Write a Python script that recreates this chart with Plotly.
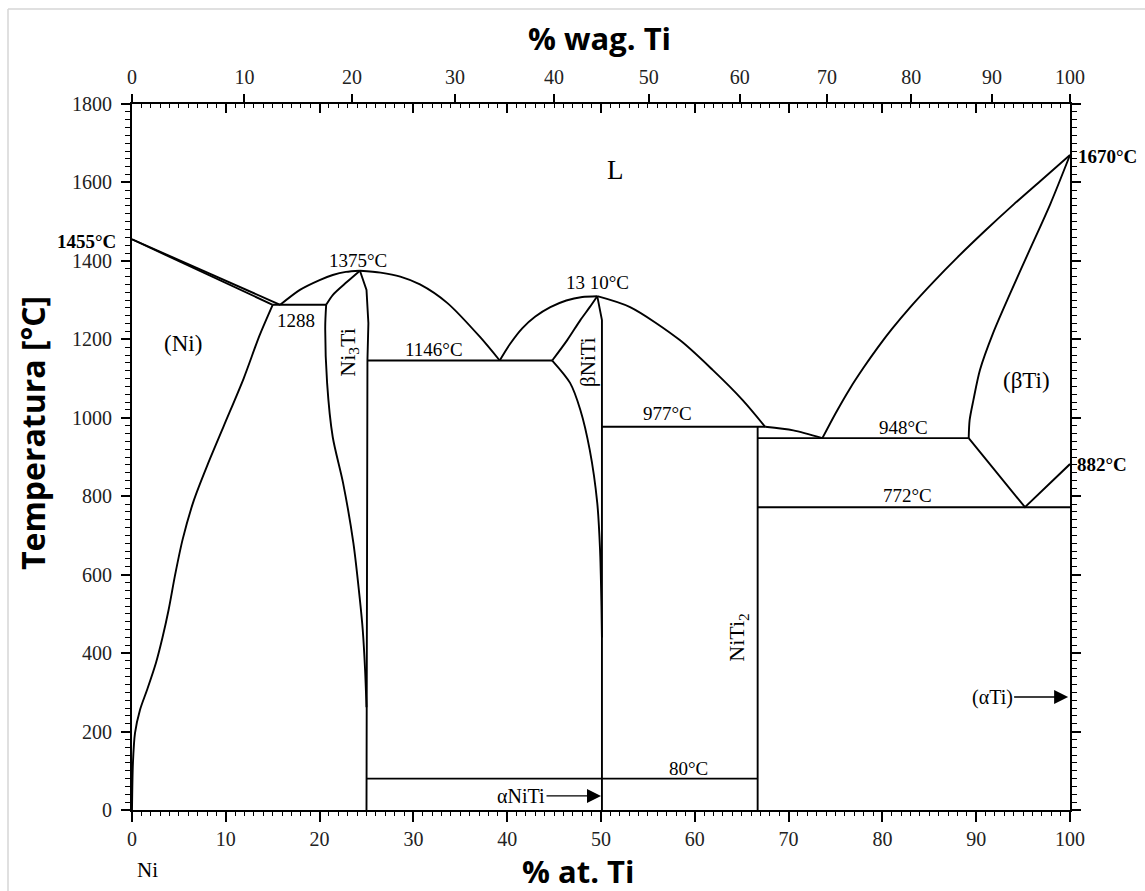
import plotly.graph_objects as go

# ---------------- phase boundaries: x = at.% Ti, T = temperature in °C ----------------
liq_ni_x = [0, 15.8]
liq_ni_T = [1455, 1288]
sol_ni_x = [0, 15.0]
sol_ni_T = [1455, 1288]

solvus_ni_x = [15.0, 13.6, 11.9, 9.8, 8.05, 6.6, 5.4, 4.6, 3.9, 3.25, 2.55, 1.6, 0.85, 0.32, 0.1, 0.0]
solvus_ni_T = [1288, 1210, 1100, 980, 880, 790, 690, 600, 510, 440, 375, 306, 255, 196, 120, 0]

liq_ni3ti_l_x = [15.8, 17.9, 20.0, 21.4, 22.8, 24.3]
liq_ni3ti_l_T = [1288, 1326, 1351, 1364, 1372, 1375]
liq_ni3ti_r_x = [24.3, 26.5, 28.6, 30.7, 33.6, 37.1, 39.2]
liq_ni3ti_r_T = [1375, 1370, 1360, 1340, 1293, 1206, 1146]

ni3ti_lu_x = [20.7, 21.4, 22.9, 24.3]
ni3ti_lu_T = [1288, 1313, 1346, 1375]
ni3ti_ll_x = [20.7, 20.6, 20.8, 21.4, 22.5, 23.6, 24.3, 24.6, 24.85, 25.0]
ni3ti_ll_T = [1288, 1232, 1089, 951, 834, 681, 535, 459, 357, 262]
ni3ti_r_x = [24.3, 25.0, 25.2, 25.1, 25.0]
ni3ti_r_T = [1375, 1326, 1241, 1146, 0]

liq_niti_l_x = [39.2, 40.3, 41.6, 43.0, 44.6, 46.3, 48.0, 49.6]
liq_niti_l_T = [1146, 1188, 1228, 1258, 1282, 1299, 1308, 1310]
liq_niti_r_x = [49.6, 53.1, 58.4, 61.9, 65.1, 67.5]
liq_niti_r_T = [1310, 1282, 1198, 1122, 1045, 977]
liq_niti2_x = [67.5, 70.5, 73.6]
liq_niti2_T = [977, 968, 948]

bniti_u_x = [44.8, 46.4, 47.8, 48.8, 49.6]
bniti_u_T = [1146, 1198, 1249, 1282, 1310]
bniti_l_x = [44.8, 46.7, 47.8, 48.8, 49.6, 49.9, 50.05, 50.1]
bniti_l_T = [1146, 1089, 1020, 918, 783, 663, 520, 440]
niti_r_x = [49.6, 50.1, 50.1]
niti_r_T = [1310, 1249, 0]

niti2_x = [66.7, 66.7]
niti2_T = [977, 0]

liq_ti_x = [73.6, 75.0, 76.5, 78.0, 79.5, 81.0, 83.0, 85.5, 88.0, 91.0, 94.0, 97.0, 100]
liq_ti_T = [948, 1011, 1073, 1128, 1179, 1226, 1283, 1348, 1409, 1478, 1544, 1607, 1670]
sol_ti_x = [100, 97.9, 95.7, 93.6, 91.8, 90.4, 89.7, 89.3, 89.2]
sol_ti_T = [1670, 1545, 1428, 1316, 1216, 1122, 1045, 994, 948]
eutectoid_x = [89.2, 95.2, 100]
eutectoid_T = [948, 772, 882]

# invariant (isothermal) lines: (x_start, x_end, T)
iso_x0 = [15.0, 25.1, 50.1, 66.7, 66.7, 25.0]
iso_x1 = [20.7, 44.8, 67.5, 89.2, 100, 66.7]
iso_T = [1288, 1146, 977, 948, 772, 80]

# axis ticks
at_ticks = list(range(0, 101, 10))
wt_ticks = list(range(0, 101, 10))
temp_ticks = list(range(0, 1801, 200))

M_TI, M_NI = 47.867, 58.693


def wt_to_at(w):
    """Convert wt.% Ti to at.% Ti for the Ni-Ti system."""
    if w <= 0:
        return 0.0
    if w >= 100:
        return 100.0
    nt = w / M_TI
    nn = (100 - w) / M_NI
    return 100 * nt / (nt + nn)


LINE = dict(color="black", width=1.9)
SERIF = "Liberation Serif"
SANS = "Open Sans"

fig = go.Figure()


def curve(xs, ys, smooth=True):
    fig.add_trace(go.Scatter(
        x=xs, y=ys, mode="lines",
        line=dict(LINE, shape="spline" if smooth else "linear", smoothing=0.8),
        showlegend=False, hoverinfo="skip"))


curve(liq_ni_x, liq_ni_T, False)
curve(sol_ni_x, sol_ni_T, False)
curve(solvus_ni_x, solvus_ni_T)
curve(liq_ni3ti_l_x, liq_ni3ti_l_T)
curve(liq_ni3ti_r_x, liq_ni3ti_r_T)
curve(ni3ti_lu_x, ni3ti_lu_T)
curve(ni3ti_ll_x, ni3ti_ll_T)
curve(ni3ti_r_x, ni3ti_r_T, False)
curve(liq_niti_l_x, liq_niti_l_T)
curve(liq_niti_r_x, liq_niti_r_T)
curve(liq_niti2_x, liq_niti2_T)
curve(bniti_u_x, bniti_u_T)
curve(bniti_l_x, bniti_l_T)
curve(niti_r_x, niti_r_T, False)
curve(niti2_x, niti2_T, False)
curve(liq_ti_x, liq_ti_T)
curve(sol_ti_x, sol_ti_T)
curve(eutectoid_x, eutectoid_T, False)
for x0, x1, t in zip(iso_x0, iso_x1, iso_T):
    curve([x0, x1], [t, t], False)

# helper traces so the secondary axes are drawn
fig.add_trace(go.Scatter(x=[0], y=[0], xaxis="x2", yaxis="y", mode="lines",
                         showlegend=False, hoverinfo="skip"))
fig.add_trace(go.Scatter(x=[0], y=[0], xaxis="x3", yaxis="y", mode="lines",
                         showlegend=False, hoverinfo="skip"))
fig.add_trace(go.Scatter(x=[0], y=[0], xaxis="x", yaxis="y2", mode="lines",
                         showlegend=False, hoverinfo="skip"))

tickfont = dict(family=SERIF, size=20, color="#222")
axis_common = dict(showgrid=False, zeroline=False, linecolor="black", linewidth=2,
                   tickcolor="black", tickwidth=1.8)

fig.update_layout(
    width=1145, height=891,
    margin=dict(l=132, r=75, t=104, b=81),
    font=dict(family=SERIF, size=20, color="black"),
    paper_bgcolor="white", plot_bgcolor="white",
    xaxis=dict(axis_common, range=[0, 100], tickvals=at_ticks, ticks="outside",
               ticklen=10, showline=True, tickfont=tickfont,
               minor=dict(dtick=1, ticks="outside", ticklen=4, tickcolor="black", tickwidth=1)),
    xaxis2=dict(axis_common, range=[0, 100], overlaying="x", side="top", anchor="y",
                tickvals=[wt_to_at(w) for w in wt_ticks], ticktext=[str(w) for w in wt_ticks],
                ticks="outside", ticklen=8, showline=True, tickfont=tickfont,
                ticklabelstandoff=2),
    xaxis3=dict(axis_common, range=[0, 100], overlaying="x", side="top", anchor="y",
                tickvals=at_ticks, ticks="inside", ticklen=9, showline=False,
                showticklabels=False,
                minor=dict(dtick=1, ticks="inside", ticklen=4, tickcolor="black", tickwidth=1)),
    yaxis=dict(axis_common, range=[0, 1800], tickvals=temp_ticks, ticks="outside",
               ticklen=9, showline=True, tickfont=tickfont, ticklabelstandoff=5,
               minor=dict(dtick=20, ticks="outside", ticklen=5, tickcolor="black", tickwidth=1)),
    yaxis2=dict(axis_common, range=[0, 1800], overlaying="y", side="right", anchor="x",
                tickvals=temp_ticks, ticks="outside", ticklen=9, showline=True,
                showticklabels=False,
                minor=dict(dtick=20, ticks="outside", ticklen=5, tickcolor="black", tickwidth=1)),
)

annotations = []


def label(text, x, y, size=19, angle=0, bold=False, xanchor="center", xshift=0,
          xref="x", yref="y", font=SERIF):
    annotations.append(dict(
        text=f"<b>{text}</b>" if bold else text, x=x, y=y, xref=xref, yref=yref,
        showarrow=False, textangle=angle, xanchor=xanchor, yanchor="middle",
        xshift=xshift, font=dict(family=font, size=size, color="black")))


# phase fields
label("L", 51.5, 1632, size=27)
label("(Ni)", 5.4, 1190, size=23)
label("(βTi)", 95.4, 1096, size=23)
label("Ni<sub>3</sub>Ti", 23.1, 1165, size=22, angle=-90)
label("βNiTi", 48.6, 1142, size=21, angle=-90)
label("NiTi<sub>2</sub>", 64.6, 439, size=22, angle=-90)

# invariant temperatures
label("1375°C", 24.1, 1400)
label("1288", 17.5, 1249)
label("1146°C", 32.2, 1173)
label("13 10°C", 49.6, 1344)
label("977°C", 57.1, 1012)
label("948°C", 82.3, 974)
label("772°C", 82.7, 803)
label("80°C", 59.3, 107)

# pure-element melting / transformation points
label("1455°C", 0, 1449, size=19, bold=True, xanchor="right", xshift=-14)
label("1670°C", 100, 1667, size=19, bold=True, xanchor="left", xshift=6)
label("882°C", 100, 880, size=19, bold=True, xanchor="left", xshift=5)

# element names under the axis
label("Ni", 1.6, -0.085, size=21, yref="paper")
label("Ti", 101.4, -0.085, size=21, yref="paper")

# axis titles
label("% wag. Ti", 0.498, 1.0935, size=31, bold=True, xref="paper", yref="paper", font=SANS)
label("% at. Ti", 0.475, -0.086, size=31, bold=True, xref="paper", yref="paper", font=SANS)
label("Temperatura [°C]", -0.1055, 0.534, size=32, bold=True, angle=-90,
      xref="paper", yref="paper", font=SANS)

# arrows pointing at narrow phase fields
annotations.append(dict(text="αNiTi", x=50, y=36, xref="x", yref="y", ax=-80, ay=0,
                        showarrow=True, arrowhead=2, arrowsize=2, arrowwidth=1.4,
                        arrowcolor="black", font=dict(family=SERIF, size=20, color="black")))
annotations.append(dict(text="(αTi)", x=99.8, y=288, xref="x", yref="y", ax=-76, ay=0,
                        showarrow=True, arrowhead=2, arrowsize=2, arrowwidth=1.4,
                        arrowcolor="black", font=dict(family=SERIF, size=20, color="black")))

fig.update_layout(annotations=annotations)

# thin frame around the figure
fig.add_shape(type="line", xref="paper", yref="paper", x0=-0.1322, x1=-0.1322,
              y0=-0.2, y1=1.1346, line=dict(color="#d6d6d6", width=1.5))
fig.add_shape(type="line", xref="paper", yref="paper", x0=-0.1322, x1=1.2,
              y0=1.1346, y1=1.1346, line=dict(color="#d6d6d6", width=1.5))

fig.write_html("out.html")
